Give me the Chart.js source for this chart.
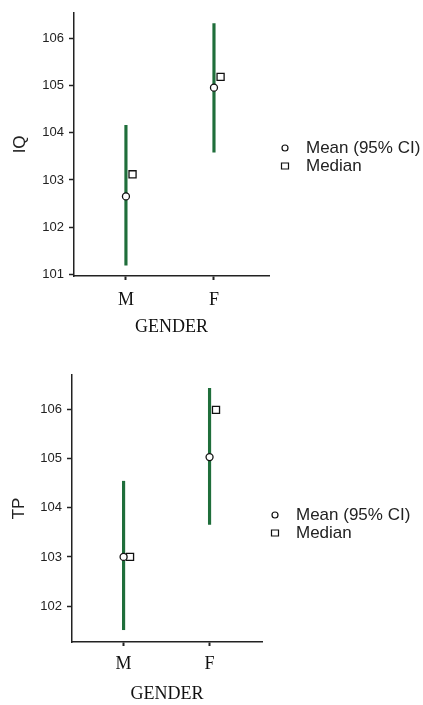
<!DOCTYPE html>
<html>
<head>
<meta charset="utf-8">
<script src="https://cdn.jsdelivr.net/npm/chart.js@4"></script>
<style>
  html, body { margin: 0; padding: 0; background: #fff; }
  .wrap { position: absolute; left: 0; width: 423px; height: 345px; }
</style>
</head>
<body>
<div class="wrap" style="top:0"><canvas id="iqChart" width="423" height="345"></canvas></div>
<div class="wrap" style="top:360px"><canvas id="tpChart" width="423" height="345"></canvas></div>
<script>
const categories = ['M', 'F'];
const categoryPos = [1, 2];

// IQ by gender
const iqMean = [102.65, 104.96];
const iqLow = [101.19, 103.59];
const iqHigh = [104.16, 106.32];
const iqMedian = [103.12, 105.19];
const iqTicks = [101, 102, 103, 104, 105, 106];

// TP by gender
const tpMean = [103.0, 105.03];
const tpLow = [101.52, 103.66];
const tpHigh = [104.54, 106.43];
const tpMedian = [103.0, 105.99];
const tpTicks = [102, 103, 104, 105, 106];

const MEDIAN_SHIFT = 0.075;
const green = '#1f6e3b';

// legend drawn beside the plot, the built-in one gets squeezed on the right
const sideLegend = {
    id: 'sideLegend',
    afterDraw(chart, args, opts) {
        const ctx = chart.ctx;
        const items = chart.data.datasets.filter(d => d.type === 'scatter');
        ctx.save();
        ctx.font = '17px "Liberation Sans"';
        ctx.textBaseline = 'middle';
        items.forEach((d, i) => {
            const cx = opts.x;
            const cy = opts.y + i * opts.rowGap;
            ctx.lineWidth = 1.2;
            ctx.strokeStyle = '#111';
            ctx.fillStyle = '#fff';
            ctx.beginPath();
            if (d.pointStyle === 'circle') {
                ctx.arc(cx, cy, 3, 0, Math.PI * 2);
            } else {
                ctx.rect(cx - 3.5, cy - 3, 7, 6);
            }
            ctx.fill();
            ctx.stroke();
            ctx.fillStyle = '#222';
            ctx.fillText(d.label, cx + 21, cy);
        });
        ctx.restore();
    },
};

function makeChart(id, cfg) {
    const ctx = document.getElementById(id).getContext('2d');
    return new Chart(ctx, {
        type: 'bar',
        data: {
            datasets: [{
                label: 'CI',
                data: categoryPos.map((x, i) => ({ x: x, y: [cfg.low[i], cfg.high[i]] })),
                backgroundColor: green,
                borderWidth: 0,
                barThickness: 2.5,
                order: 2,
            }, {
                type: 'scatter',
                label: 'Mean (95% CI)',
                data: categoryPos.map((x, i) => ({ x: x, y: cfg.mean[i] })),
                pointStyle: 'circle',
                pointRadius: 3.5,
                backgroundColor: '#fff',
                borderColor: '#111',
                borderWidth: 1.3,
                order: 0,
            }, {
                type: 'scatter',
                label: 'Median',
                data: categoryPos.map((x, i) => ({ x: x + MEDIAN_SHIFT, y: cfg.median[i] })),
                pointStyle: 'rect',
                pointRadius: 5,
                backgroundColor: '#fff',
                borderColor: '#111',
                borderWidth: 1.3,
                order: 1,
            }],
        },
        plugins: [sideLegend],
        options: {
            responsive: false,
            animation: false,
            layout: {
                padding: { top: cfg.padTop, left: cfg.padLeft, right: cfg.padRight, bottom: cfg.padBottom },
            },
            plugins: {
                tooltip: { enabled: false },
                legend: { display: false },
                sideLegend: cfg.legend,
            },
            scales: {
                x: {
                    type: 'linear',
                    offset: false,
                    min: cfg.xMin,
                    max: cfg.xMax,
                    afterBuildTicks: s => { s.ticks = categoryPos.map(v => ({ value: v })); },
                    afterFit: s => { s.height = cfg.xHeight; },
                    ticks: {
                        padding: cfg.xTickPad,
                        color: '#111',
                        font: { family: 'Liberation Serif', size: 18 },
                        callback: v => categories[categoryPos.indexOf(v)],
                    },
                    grid: { offset: false, drawOnChartArea: false, tickLength: 4, color: '#222', tickWidth: 2 },
                    border: { color: '#222', width: 1.5 },
                    title: {
                        display: true,
                        text: 'GENDER',
                        color: '#111',
                        padding: 0,
                        font: { family: 'Liberation Serif', size: 18 },
                    },
                },
                y: {
                    min: cfg.yMin,
                    max: cfg.yMax,
                    afterBuildTicks: s => { s.ticks = cfg.ticks.map(v => ({ value: v })); },
                    afterFit: s => { s.width = cfg.yWidth; },
                    ticks: {
                        padding: 5,
                        color: '#222',
                        font: { family: 'Liberation Sans', size: 13 },
                    },
                    grid: { drawOnChartArea: false, tickLength: 5, color: '#222', tickWidth: 1.5 },
                    border: { color: '#222', width: 1.5 },
                    title: {
                        display: true,
                        text: cfg.yTitle,
                        color: '#222',
                        padding: 0,
                        font: { family: 'Liberation Sans', size: 17 },
                    },
                },
            },
        },
    });
}

makeChart('iqChart', {
    low: iqLow, high: iqHigh, mean: iqMean, median: iqMedian, ticks: iqTicks,
    yTitle: 'IQ', yMin: 100.96, yMax: 106.55, xMin: 0.41, xMax: 2.625,
    padTop: 12, padLeft: 10, padRight: 154, padBottom: 7, yWidth: 64, xHeight: 62, xTickPad: 9,
    legend: { x: 285, y: 148, rowGap: 18 },
});

makeChart('tpChart', {
    low: tpLow, high: tpHigh, mean: tpMean, median: tpMedian, ticks: tpTicks,
    yTitle: 'TP', yMin: 101.27, yMax: 106.7, xMin: 0.4, xMax: 2.61,
    padTop: 15, padLeft: 9, padRight: 161, padBottom: 0, yWidth: 63, xHeight: 63, xTickPad: 7,
    legend: { x: 275, y: 155, rowGap: 18 },
});
</script>
</body>
</html>
